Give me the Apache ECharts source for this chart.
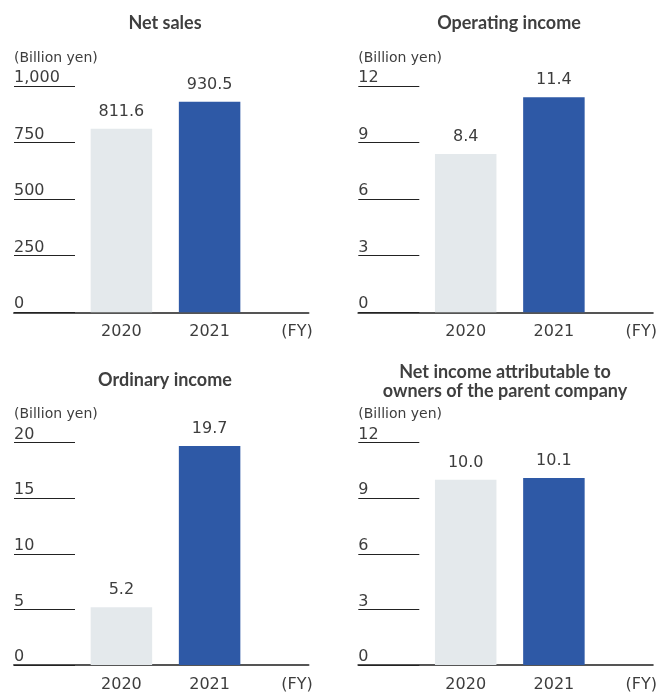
<!DOCTYPE html>
<html>
<head>
<meta charset="utf-8">
<script src="https://cdn.jsdelivr.net/npm/echarts@6/dist/echarts.min.js"></script>
<style>
html,body{margin:0;padding:0;background:#fff;}
#chart{width:662px;height:693px;}
</style>
</head>
<body>
<div id="chart"></div>
<script>
// ---- data ----
const categories = ['2020', '2021'];
const fyLabel = '(FY)';
const unitLabel = '(Billion yen)';
const titles = ['Net sales', 'Operating income', 'Ordinary income', 'Net income attributable to\nowners of the parent company'];
const netSales = [811.6, 930.5];
const operatingIncome = [8.4, 11.4];
const ordinaryIncome = [5.2, 19.7];
const netIncome = [10.0, 10.1];
const axisMax = [1000, 12, 20, 12];
const axisInterval = [250, 3, 5, 3];
const seriesData = [netSales, operatingIncome, ordinaryIncome, netIncome];

// ---- styles ----
const barColors = ['#E4E9EC', '#2E59A6'];
const textColor = '#3d3d3d';
const numFont = 'DejaVu Sans';

const panels = [
  {x: 14, top: 86, base: 312.3, titleX: 165, titleY: 14},
  {x: 358.3, top: 86, base: 312.3, titleX: 509, titleY: 14},
  {x: 14, top: 442.7, base: 669.3, titleX: 165, titleY: 371},
  {x: 358.3, top: 442.7, base: 669.3, titleX: 505, titleY: 363}
];
const axisWidth = 294.5;
const bandOffset = 63.3;
const bandWidth = 88.2;

function fmtTick(v) {
  return v >= 1000 ? String(v).replace(/\B(?=(\d{3})+(?!\d))/g, ',') : String(v);
}

const grid = [], xAxis = [], yAxis = [], series = [], title = [];
panels.forEach((p, i) => {
  const h = p.base - p.top;
  // grid A: y axis and baseline
  grid.push({left: p.x, top: p.top, width: axisWidth, height: h, containLabel: false});
  // grid B: bars
  grid.push({left: p.x + bandOffset, top: p.top, width: bandWidth * categories.length, height: h, containLabel: false});
  const gA = i * 2, gB = i * 2 + 1;
  xAxis.push({
    gridIndex: gA, type: 'value', min: 0, max: 1,
    name: fyLabel, nameLocation: 'end', nameGap: -11.5,
    nameTextStyle: {color: textColor, fontFamily: numFont, fontSize: 16, align: 'center', verticalAlign: 'top', padding: [12, 0, 0, 0]},
    axisLine: {show: true, lineStyle: {color: '#555', width: 2}},
    axisTick: {show: false}, axisLabel: {show: false}, splitLine: {show: false}
  });
  xAxis.push({
    gridIndex: gB, type: 'category', data: categories,
    axisLine: {show: false}, axisTick: {show: false}, splitLine: {show: false},
    axisLabel: {color: textColor, fontFamily: numFont, fontSize: 16, margin: 12, interval: 0}
  });
  yAxis.push({
    gridIndex: gA, type: 'value', min: 0, max: axisMax[i], interval: axisInterval[i],
    name: unitLabel, nameLocation: 'end', nameGap: 21,
    nameTextStyle: {color: textColor, fontFamily: numFont, fontSize: 14, align: 'left', verticalAlign: 'bottom'},
    axisLine: {show: false},
    axisTick: {show: true, inside: true, length: 61, lineStyle: {color: '#222', width: 1}},
    splitLine: {show: false},
    axisLabel: {
      inside: true, margin: 0, align: 'left', verticalAlign: 'bottom', padding: 0,
      color: textColor, fontFamily: numFont, fontSize: 16, formatter: fmtTick
    }
  });
  yAxis.push({
    gridIndex: gB, type: 'value', min: 0, max: axisMax[i], interval: axisInterval[i], show: false
  });
  series.push({
    type: 'bar', xAxisIndex: gB, yAxisIndex: gB, barWidth: 61.5,
    data: seriesData[i].map((v, k) => ({value: v, itemStyle: {color: barColors[k]}})),
    label: {
      show: true, position: 'top', distance: 9, color: textColor, fontFamily: numFont, fontSize: 16,
      formatter: (d) => d.value.toFixed(1)
    },
    silent: true, animation: false
  });
  title.push({
    text: titles[i], left: p.titleX, top: p.titleY, textAlign: 'center', padding: 0,
    textStyle: {color: '#3f3f3f', fontFamily: 'Lato', fontWeight: 'bold', fontSize: 18, lineHeight: 19}
  });
});

const chart = echarts.init(document.getElementById('chart'), null, {renderer: 'canvas'});
chart.setOption({animation: false, title, grid, xAxis, yAxis, series});
</script>
</body>
</html>
